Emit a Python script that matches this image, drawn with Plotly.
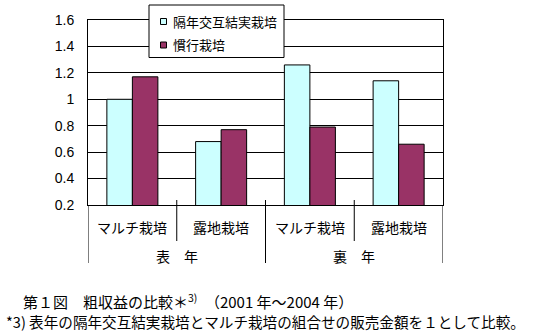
import plotly.graph_objects as go

categories = ["マルチ栽培", "露地栽培", "マルチ栽培", "露地栽培"]
groups = ["表　年", "裏　年"]
series_names = ["隔年交互結実栽培", "慣行栽培"]
series_colors = ["#CCFFFF", "#993366"]
alt_bearing = [1.00, 0.68, 1.26, 1.14]
conventional = [1.17, 0.77, 0.79, 0.66]
tick_vals = [0.2, 0.4, 0.6, 0.8, 1.0, 1.2, 1.4, 1.6]
tick_text = ["0.2", "0.4", "0.6", "0.8", "1", "1.2", "1.4", "1.6"]
caption1 = "第１図　粗収益の比較＊<sup>3)</sup>　（2001 年～2004 年）"
caption2 = "*3) 表年の隔年交互結実栽培とマルチ栽培の組合せの販売金額を１として比較。"

W, H = 537, 334
L, R, T, B = 88, 443, 20, 205
ph = B - T

def py(ypx):
    return (B - ypx) / ph

def px(xpx):
    return (xpx - L) / (R - L)

xs = list(range(len(categories)))
jp = "Noto Sans CJK JP"

fig = go.Figure()
for name, vals, col in zip(series_names, [alt_bearing, conventional], series_colors):
    fig.add_trace(go.Bar(x=xs, y=vals, name=name, showlegend=False,
                         marker=dict(color=col, line=dict(color="black", width=1))))

shapes = []
n = len(categories)
# category separators
for i in range(n + 1):
    xb = i - 0.5
    if i == 0 or i == n or i == n // 2:
        y0, y1 = py(205), py(263)
        if i == n // 2:
            y0 = py(200)
    else:
        y0, y1 = py(200), py(241)
    shapes.append(dict(type="line", xref="x", yref="paper", x0=xb, x1=xb, y0=y0, y1=y1,
                       line=dict(color="black", width=1)))

# legend box
shapes.append(dict(type="rect", xref="paper", yref="paper", x0=px(149), x1=px(284),
                   y0=py(57.5), y1=py(5), line=dict(color="black", width=1),
                   fillcolor="white", layer="above"))

annotations = []
legend_y = [21.5, 45]
for name, col, ly in zip(series_names, series_colors, legend_y):
    shapes.append(dict(type="rect", xref="paper", yref="paper", x0=px(160.5), x1=px(166.5),
                       y0=py(ly + 3), y1=py(ly - 3), line=dict(color="black", width=1),
                       fillcolor=col, layer="above"))
    annotations.append(dict(x=px(171), y=py(ly), xref="paper", yref="paper", text=name,
                            showarrow=False, xanchor="left", yanchor="middle",
                            font=dict(family=jp, size=13, color="black")))

for i, c in enumerate(categories):
    annotations.append(dict(x=i, y=py(227), xref="x", yref="paper", text=c, showarrow=False,
                            font=dict(family=jp, size=14, color="black"), yanchor="middle"))
for g, name in enumerate(groups):
    annotations.append(dict(x=g * 2 + 0.5, y=py(256), xref="x", yref="paper", text=name,
                            showarrow=False, font=dict(family=jp, size=14, color="black"),
                            yanchor="middle"))
annotations.append(dict(x=px(21), y=py(301), xref="paper", yref="paper", text=caption1,
                        showarrow=False, xanchor="left", yanchor="middle",
                        font=dict(family=jp, size=15, color="black")))
annotations.append(dict(x=px(4), y=py(321), xref="paper", yref="paper", text=caption2,
                        showarrow=False, xanchor="left", yanchor="middle",
                        font=dict(family=jp, size=14.6, color="black")))

fig.update_layout(
    width=W, height=H,
    margin=dict(l=L, r=W - R, t=T, b=H - B, pad=0),
    paper_bgcolor="white", plot_bgcolor="white",
    barmode="group", bargap=0.425, bargroupgap=0,
    showlegend=False,
    xaxis=dict(range=[-0.5, n - 0.5], showticklabels=False, showgrid=False,
               zeroline=False, showline=True, linecolor="black", linewidth=1, mirror=True,
               ticks=""),
    yaxis=dict(range=[0.2, 1.6], tickvals=tick_vals, ticktext=tick_text,
               showgrid=True, gridcolor="black", gridwidth=1, zeroline=False,
               showline=True, linecolor="black", linewidth=1, mirror=True,
               ticks="", ticklabelstandoff=10,
               tickfont=dict(family="Liberation Sans", size=14, color="black")),
    shapes=shapes, annotations=annotations,
)

fig.write_html("out.html")
